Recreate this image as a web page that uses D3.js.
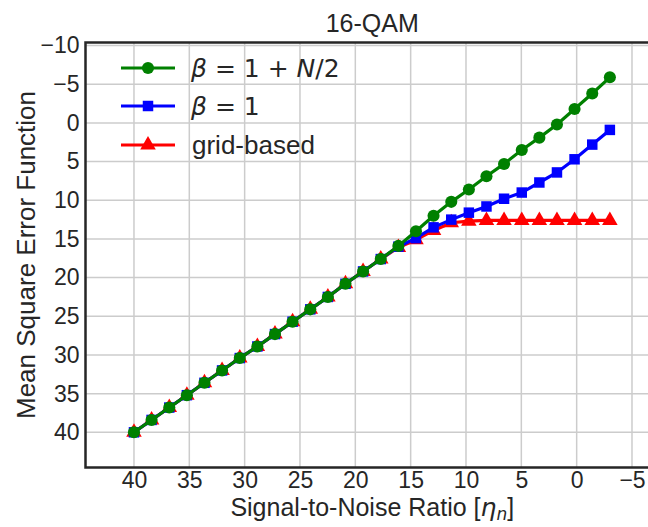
<!DOCTYPE html>
<html>
<head>
<meta charset="utf-8">
<script src="https://cdn.jsdelivr.net/npm/d3@7"></script>
<style>
  body { margin: 0; background: #fff; }
  text { font-family: "Liberation Sans", Arial, sans-serif; fill: #262626; }
</style>
</head>
<body>
<div id="chart"></div>
<script>
// --------------------------------------------------------------------------------------
// data
// --------------------------------------------------------------------------------------
var snr = [40.00, 38.41, 36.81, 35.22, 33.63, 32.04, 30.44, 28.85, 27.26, 25.67,
           24.07, 22.48, 20.89, 19.30, 17.70, 16.11, 14.52, 12.93, 11.33, 9.74,
           8.15, 6.56, 4.96, 3.37, 1.78, 0.19, -1.41, -3.00];

var mse_beta_n2 = [40.0, 38.4, 36.8, 35.2, 33.6, 32.0, 30.4, 28.9, 27.3, 25.7,
                   24.1, 22.5, 20.8, 19.2, 17.6, 15.9, 14.0, 12.0, 10.2, 8.6,
                   6.9, 5.3, 3.5, 1.9, 0.2, -1.8, -3.8, -5.9];

var mse_beta_1 = [40.0, 38.4, 36.8, 35.2, 33.6, 32.0, 30.4, 28.9, 27.3, 25.7,
                  24.1, 22.5, 20.8, 19.2, 17.6, 16.0, 14.9, 13.5, 12.5, 11.6,
                  10.8, 9.8, 9.0, 7.7, 6.4, 4.7, 2.8, 0.9];

var mse_grid = [40.0, 38.4, 36.8, 35.2, 33.6, 32.0, 30.4, 28.9, 27.3, 25.7,
                24.1, 22.5, 20.8, 19.2, 17.6, 16.1, 15.1, 13.9, 12.9, 12.7,
                12.6, 12.6, 12.6, 12.6, 12.6, 12.6, 12.6, 12.6];

var x_ticks = [40, 35, 30, 25, 20, 15, 10, 5, 0, -5];
var y_ticks = [-10, -5, 0, 5, 10, 15, 20, 25, 30, 35, 40];

var title = "16-QAM";
var x_label = "Signal-to-Noise Ratio [";
var y_label = "Mean Square Error Function";

// --------------------------------------------------------------------------------------
// chart
// --------------------------------------------------------------------------------------
var W = 648, H = 527;
var plot = {left: 85.5, right: 659, top: 42.5, bottom: 467.5};

var svg = d3.select("#chart").append("svg")
    .attr("width", W)
    .attr("height", H);

// both axes are reversed
var x = d3.scaleLinear().domain([44.38, -7.44]).range([plot.left, plot.right]);
var y = d3.scaleLinear().domain([-10.4, 44.55]).range([plot.top, plot.bottom]);

var minus = function(v) { return String(v).replace("-", "\u2212"); };

// ==========================================================
// grid

svg.append("g")
    .selectAll("line")
    .data(x_ticks)
    .enter().append("line")
    .attr("x1", function(d) { return x(d); })
    .attr("x2", function(d) { return x(d); })
    .attr("y1", plot.top)
    .attr("y2", plot.bottom)
    .attr("stroke", "#cccccc")
    .attr("stroke-width", 1.5);

svg.append("g")
    .selectAll("line")
    .data(y_ticks)
    .enter().append("line")
    .attr("x1", plot.left)
    .attr("x2", plot.right)
    .attr("y1", function(d) { return y(d); })
    .attr("y2", function(d) { return y(d); })
    .attr("stroke", "#cccccc")
    .attr("stroke-width", 1.5);

// ==========================================================
// axes (tick marks hidden, labels only)

var x_axis = svg.append("g")
    .attr("transform", "translate(0," + plot.bottom + ")")
    .call(d3.axisBottom(x).tickValues(x_ticks).tickSize(0).tickPadding(4).tickFormat(minus));

var y_axis = svg.append("g")
    .attr("transform", "translate(" + plot.left + ",0)")
    .call(d3.axisLeft(y).tickValues(y_ticks).tickSize(0).tickPadding(6).tickFormat(minus));

[x_axis, y_axis].forEach(function(a) {
  a.select(".domain").remove();
  a.selectAll("text")
    .style("font-family", "'Liberation Sans', Arial, sans-serif")
    .style("font-size", "23px")
    .attr("fill", "#262626");
});

// spines: left, bottom, top
svg.append("path")
    .attr("d", "M" + plot.right + "," + plot.top + "H" + plot.left + "V" + plot.bottom + "H" + plot.right)
    .attr("fill", "none")
    .attr("stroke", "#262626")
    .attr("stroke-width", 2.5);

// ==========================================================
// series: red, blue, then green on top

var line = d3.line()
    .x(function(d) { return x(d[0]); })
    .y(function(d) { return y(d[1]); });

function pairs(values) {
  return snr.map(function(s, i) { return [s, values[i]]; });
}

var series = [
  {name: "grid", values: mse_grid, color: "#ff0000", symbol: d3.symbolTriangle, size: 105},
  {name: "b1", values: mse_beta_1, color: "#0000ff", symbol: d3.symbolSquare, size: 110},
  {name: "bn2", values: mse_beta_n2, color: "#008000", symbol: d3.symbolCircle, size: 115}
];

series.forEach(function(s) {
  var g = svg.append("g");
  g.append("path")
    .datum(pairs(s.values))
    .attr("d", line)
    .attr("fill", "none")
    .attr("stroke", s.color)
    .attr("stroke-width", 3.2);

  g.selectAll("path.marker")
    .data(pairs(s.values))
    .enter().append("path")
    .attr("class", "marker")
    .attr("d", d3.symbol().type(s.symbol).size(s.size))
    .attr("transform", function(d) { return "translate(" + x(d[0]) + "," + y(d[1]) + ")"; })
    .attr("fill", s.color);
});

// ==========================================================
// legend

var legend_rows = [
  {color: "#008000", symbol: d3.symbolCircle, size: 115, y: 68},
  {color: "#0000ff", symbol: d3.symbolSquare, size: 110, y: 106},
  {color: "#ff0000", symbol: d3.symbolTriangle, size: 105, y: 145}
];

legend_rows.forEach(function(r) {
  svg.append("line")
    .attr("x1", 121).attr("x2", 175)
    .attr("y1", r.y).attr("y2", r.y)
    .attr("stroke", r.color)
    .attr("stroke-width", 3.2);
  svg.append("path")
    .attr("d", d3.symbol().type(r.symbol).size(r.size))
    .attr("transform", "translate(148," + r.y + ")")
    .attr("fill", r.color);
});

// math text entries
var t1 = svg.append("text")
    .attr("x", 191).attr("y", 68).attr("dy", "0.35em")
    .style("font-family", "'DejaVu Sans', sans-serif")
    .style("font-size", "25px");
t1.append("tspan").style("font-style", "italic").text("\u03b2");
t1.append("tspan").text(" = 1 + ");
t1.append("tspan").style("font-style", "italic").text("N");
t1.append("tspan").text("/2");

var t2 = svg.append("text")
    .attr("x", 191).attr("y", 106).attr("dy", "0.35em")
    .style("font-family", "'DejaVu Sans', sans-serif")
    .style("font-size", "25px");
t2.append("tspan").style("font-style", "italic").text("\u03b2");
t2.append("tspan").text(" = 1");

svg.append("text")
    .attr("x", 192).attr("y", 145).attr("dy", "0.35em")
    .style("font-size", "26px")
    .text("grid-based");

// ==========================================================
// title and labels

svg.append("text")
    .attr("x", (plot.left + plot.right) / 2)
    .attr("y", 32)
    .attr("text-anchor", "middle")
    .style("font-size", "25px")
    .text(title);

var xl = svg.append("text")
    .attr("x", (plot.left + plot.right) / 2)
    .attr("y", 516)
    .attr("text-anchor", "middle")
    .style("font-size", "25px");
xl.append("tspan").text(x_label);
xl.append("tspan").style("font-family", "'DejaVu Sans', sans-serif").style("font-style", "italic").text("\u03b7");
xl.append("tspan").style("font-family", "'DejaVu Sans', sans-serif").style("font-style", "italic")
  .style("font-size", "17px").attr("dy", 4).text("n");
xl.append("tspan").attr("dy", -4).text("]");

svg.append("text")
    .attr("transform", "translate(35," + ((plot.top + plot.bottom) / 2) + ") rotate(-90)")
    .attr("text-anchor", "middle")
    .style("font-size", "26px")
    .text(y_label);
</script>
</body>
</html>
